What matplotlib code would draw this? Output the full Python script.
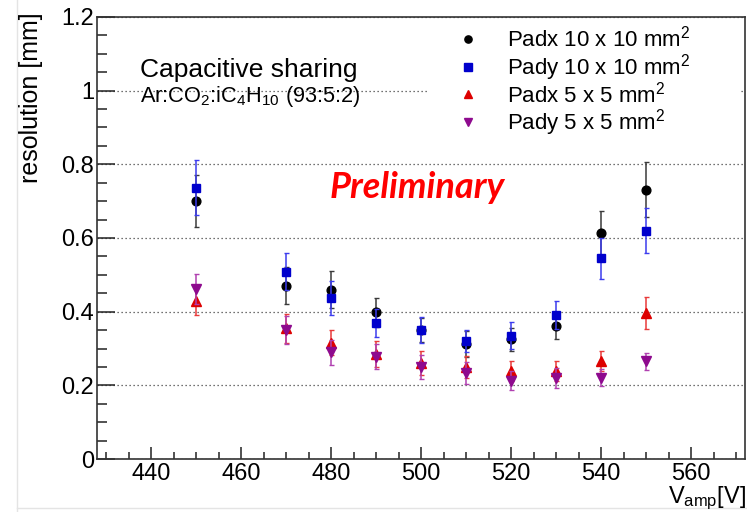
import numpy as np
import matplotlib
matplotlib.use("Agg")
import matplotlib.pyplot as plt
from matplotlib.lines import Line2D
from matplotlib.patches import Rectangle
from matplotlib.ticker import MultipleLocator

plt.rcParams['font.family'] = ['Liberation Sans', 'DejaVu Sans']
plt.rcParams['mathtext.default'] = 'regular'

# amplification voltage (V)
v_amp = [450, 470, 480, 490, 500, 510, 520, 530, 540, 550]

# resolution (mm) and errors for each pad readout
padx10 = [0.700, 0.470, 0.460, 0.398, 0.350, 0.312, 0.325, 0.362, 0.614, 0.731]
padx10_err = [0.070, 0.050, 0.050, 0.040, 0.033, 0.035, 0.031, 0.037, 0.060, 0.074]
pady10 = [0.737, 0.508, 0.437, 0.370, 0.350, 0.320, 0.335, 0.390, 0.545, 0.620]
pady10_err = [0.075, 0.050, 0.045, 0.038, 0.035, 0.030, 0.036, 0.038, 0.055, 0.062]
padx5 = [0.430, 0.355, 0.316, 0.285, 0.261, 0.250, 0.240, 0.239, 0.266, 0.397]
padx5_err = [0.040, 0.040, 0.035, 0.035, 0.032, 0.030, 0.027, 0.028, 0.028, 0.043]
pady5 = [0.462, 0.350, 0.290, 0.278, 0.249, 0.233, 0.213, 0.219, 0.221, 0.265]
pady5_err = [0.040, 0.038, 0.034, 0.034, 0.033, 0.029, 0.026, 0.027, 0.022, 0.024]

labels = [r'Padx 10 x 10 mm$^2$', r'Pady 10 x 10 mm$^2$',
          r'Padx 5 x 5 mm$^2$', r'Pady 5 x 5 mm$^2$']

fig = plt.figure(figsize=(7.47, 5.12), dpi=100)
ax = fig.add_axes([97/747, 1-459/512, 648/747, 442/512])

series = [
    (padx10, padx10_err, 'o', '#000000', '#3a3a3a', 6.3),
    (pady10, pady10_err, 's', '#0000cc', '#3c3cee', 6.0),
    (padx5, padx5_err, '^', '#dd0000', '#e83a3a', 7.0),
    (pady5, pady5_err, 'v', '#8e0a8e', '#b040b0', 7.0),
]
for k, (y, e, m, c, ec, ms) in enumerate(series):
    ax.errorbar(v_amp, y, yerr=e, fmt=m, color=c, ecolor=ec, ms=ms,
                elinewidth=1.1, capsize=1.8, capthick=1.0, zorder=3+k)

ax.set_xlim(428, 572)
ax.set_ylim(0, 1.2)
ax.xaxis.set_major_locator(MultipleLocator(20))
ax.xaxis.set_minor_locator(MultipleLocator(5))
ax.yaxis.set_major_locator(MultipleLocator(0.2))
ax.yaxis.set_minor_locator(MultipleLocator(0.05))
ax.set_yticks([0, 0.2, 0.4, 0.6, 0.8, 1.0, 1.2])
ax.set_yticklabels(['0', '0.2', '0.4', '0.6', '0.8', '1', '1.2'])

ax.tick_params(which='both', direction='in', top=False, right=False,
               labelsize=17, width=1.1, color='#222222')
ax.tick_params(axis='y', which='major', length=13, pad=2)
ax.tick_params(axis='y', which='minor', length=7)
ax.tick_params(axis='x', which='major', length=9, pad=3)
ax.tick_params(axis='x', which='minor', length=5)
for s in ax.spines.values():
    s.set_linewidth(1.2)
    s.set_color('#333333')

ax.yaxis.grid(True, linestyle=(0, (1, 2.2)), color='#444444', linewidth=0.9)
ax.set_axisbelow(True)

# white box behind the legend hides the grid there
ax.add_patch(Rectangle((0.511, 0.733), 0.481, 0.26, transform=ax.transAxes,
                       facecolor='white', edgecolor='none', zorder=1.8))

# legend rows, evenly spaced
row_y = [39, 66.5, 94, 121.5]
for (_, _, m, c, _, _), lab, yy in zip(series, labels, row_y):
    fig.add_artist(Line2D([468/747], [1-yy/512], ls='none', marker=m,
                          color=c, ms=5.2))
    fig.text(507/747, 1-(yy+8)/512, lab, fontsize=16, va='baseline')

fig.text(140/747, 1-76.7/512, 'Capacitive sharing', fontsize=19, va='baseline')
fig.text(140/747, 1-101.7/512, r'Ar:CO$_2$:iC$_4$H$_{10}$ (93:5:2)',
         fontsize=15.7, va='baseline', zorder=5)
fig.text(330/747, 1-198/512, 'Preliminary', fontsize=26, color='red',
         family='Lato', weight='bold', style='italic', va='baseline')

fig.text(31/747, 1-12/512, 'resolution [mm]', fontsize=18, rotation=90,
         ha='center', va='top')
fig.text(746/747, 0.5/512, r'V$_{amp}$[V]', fontsize=17,
         ha='right', va='bottom')

# faint frame edges of the page
fig.add_artist(Line2D([17/747, 17/747], [0, 1], color='#e4e4e4', lw=1))
fig.add_artist(Line2D([17/747, 1], [4/512, 4/512], color='#e4e4e4', lw=1))

fig.savefig('out.png', dpi=100)
